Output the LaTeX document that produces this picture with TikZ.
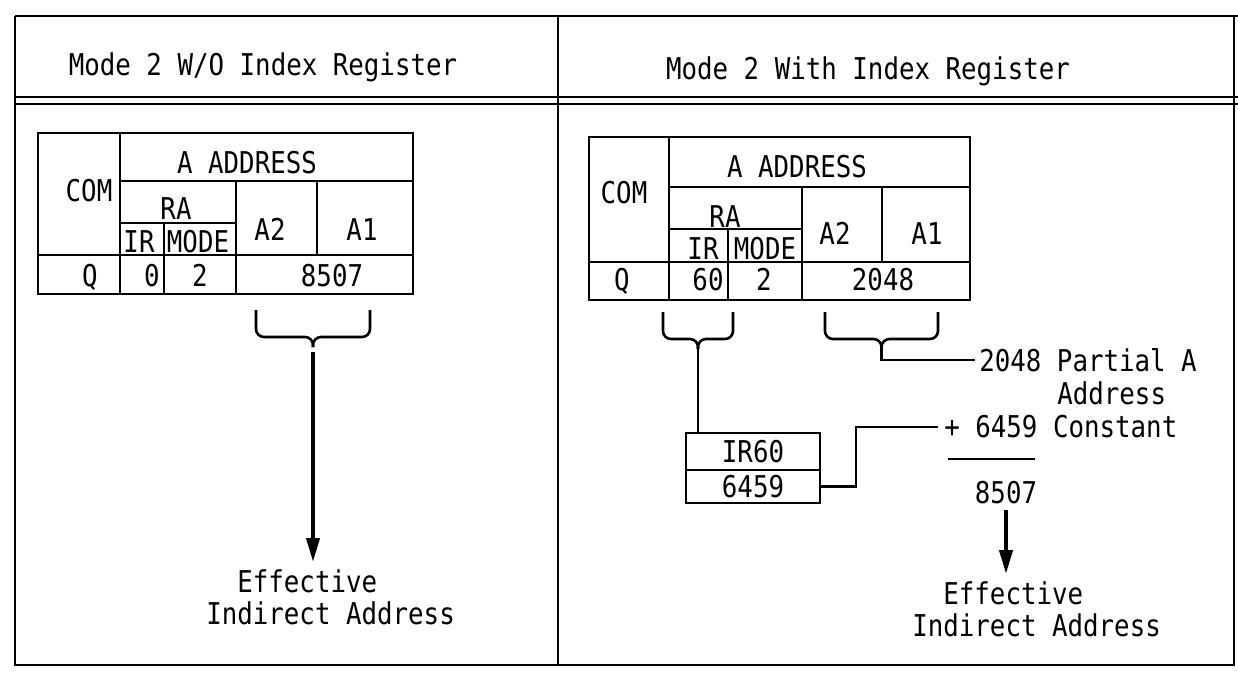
\documentclass[tikz,border=0pt]{standalone}
\usepackage{fontspec}
\newfontfamily\schreibm[FakeStretch=0.86]{DejaVu Sans Mono}
\usetikzlibrary{arrows.meta,positioning}
% geschweifte Klammer: links, rechts, oben, Name der Spitze
\newcommand\klammer[4]{%
  \draw[klammer] (#1,#3) -- (#1,#3+27) -- ({(#1+#2)/2},#3+27)
    -- ({(#1+#2)/2},#3+37) coordinate (#4);
  \draw[klammer] (#2,#3) -- (#2,#3+27) -- ({(#1+#2)/2},#3+27)
    -- ({(#1+#2)/2},#3+37);}

\begin{document}
\begin{tikzpicture}[x=1pt,y=-1pt,line width=2.6pt,
  schrift/.style={font=\schreibm\fontsize{30}{32}\selectfont,inner sep=0pt},
  txt/.style={schrift,anchor=base},
  kasten/.style={schrift,draw,outer sep=0pt,minimum width=134pt},
  klammer/.style={rounded corners=8pt},
  pfeil/.style={-{Triangle[length=24pt,width=13pt]},line width=4pt}]
\useasboundingbox (0,0) rectangle (1238,675);
% Rahmen zeichnen
\draw (15,16) -- (1238,16);
\draw (15,97) -- (1238,97);
\draw (15,104) -- (1238,104);
\draw (15,16) -- (15,665) -- (1234,665) -- (1234,16);
\draw (558,16) -- (558,665);
\node[txt] (ltitel) at (263,75) {Mode 2 W/O Index Register};
\node[txt] (rtitel) at (868,79) {Mode 2 With Index Register};

% linke Tabelle
\draw (38,133) rectangle (413,294);
\draw (120,133) -- (120,294) (120,181) -- (413,181) (120,223) -- (236,223)
  (38,255) -- (413,255) (164,223) -- (164,294) (236,181) -- (236,294)
  (317,181) -- (317,255);
\node[txt] (lcom) at (89,201) {COM};
\node[txt] (ladr) at (247,173) {A ADDRESS};
\node[txt] (lra) at (176,219) {RA};
\node[txt] (lir) at (139,252) {IR};
\node[txt] (lmode) at (198,252) {MODE};
\node[txt] (latwo) at (270,240) {A2};
\node[txt] (laone) at (362,240) {A1};
\node[txt] (lq) at (90,286) {Q};
\node[txt] (lirw) at (152,286) {0};
\node[txt] (lmodew) at (200,286) {2};
\node[txt] (ladrw) at (332,286) {8507};

% rechte Tabelle
\draw (589,137) rectangle (970,300);
\draw (669,137) -- (669,300) (669,187) -- (970,187) (669,229) -- (802,229)
  (589,262) -- (970,262) (728,229) -- (728,300) (802,187) -- (802,300)
  (882,187) -- (882,262);
\node[txt] (rcom) at (624,203) {COM};
\node[txt] (radr) at (797,177) {A ADDRESS};
\node[txt] (rra) at (725,227) {RA};
\node[txt] (rir) at (703,259) {IR};
\node[txt] (rmode) at (765,259) {MODE};
\node[txt] (ratwo) at (835,244) {A2};
\node[txt] (raone) at (927,244) {A1};
\node[txt] (rq) at (622,290) {Q};
\node[txt] (rirw) at (708,290) {60};
\node[txt] (rmodew) at (764,290) {2};
\node[txt] (radrw) at (883,290) {2048};

% Indexregister
\node[kasten,minimum height=37pt] (reg) at (753,451.5) {IR60};
\node[kasten,minimum height=33pt,below=0pt of reg] (regw) {6459};

% Rechnung
\node[schrift,anchor=west] (partial) at (978,360) {2048 Partial A};
\node[txt,anchor=base west] (adresse) at (1056,404) {Address};
\node[schrift,anchor=west] (konst) at (943,427) {+ 6459 Constant};
\draw (948,459) -- (1035,459);
\node[txt] (summe) at (1006,503) {8507};

% Ergebnis
\node[schrift,align=left,anchor=north west] (leff) at (205,568)
  {\hphantom{In}Effective\\Indirect Address};
\node[schrift,align=left,anchor=north west] (reff) at (911,580)
  {\hphantom{In}Effective\\Indirect Address};

% Klammern und Verbindungen
\klammer{256}{370}{310}{lspitze}
\draw[pfeil,shorten <=5pt,shorten >=6pt] (lspitze) -- (lspitze |- leff.north);
\klammer{663}{733}{312}{irspitze}
\klammer{825}{938}{312}{aspitze}
\draw (irspitze) -- (irspitze |- reg.north);
\draw[shorten >=3pt] (aspitze) |- (partial.west);
\draw[shorten >=5pt] (regw.east) -- ++(36,0) |- (konst.west);
\draw[pfeil,shorten <=5pt,shorten >=6pt] (summe.south) -- (summe.south |- reff.north);
\end{tikzpicture}
\end{document}
